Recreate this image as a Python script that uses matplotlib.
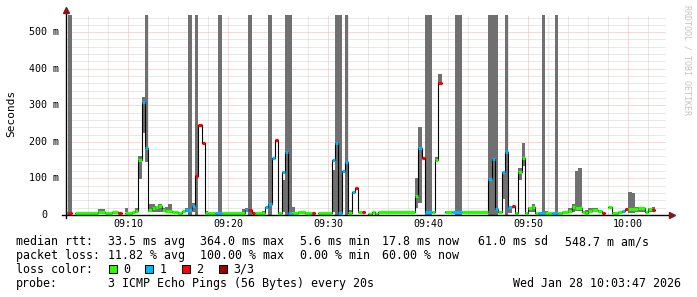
import numpy as np
import pandas as pd
import matplotlib
matplotlib.use("Agg")
import matplotlib.pyplot as plt
import matplotlib.dates as mdates
from matplotlib.ticker import MultipleLocator
from matplotlib.patches import Rectangle
from matplotlib.transforms import blended_transform_factory, offset_copy

DAY = "2026-01-28 "

# median rtt per step (ms), loss count of 3 pings; None = no data
seg_time = ["09:03:40", "09:04:00", "09:04:20", "09:04:40", "09:07:00", "09:07:40", "09:08:20",
            "09:09:00", "09:09:20", "09:09:40", "09:10:20", "09:10:40", "09:11:00", "09:11:20",
            "09:11:40", "09:12:00", "09:12:20", "09:12:40", "09:13:00", "09:13:20", "09:13:40",
            "09:14:20", "09:14:40", "09:15:00", "09:15:20", "09:15:40", "09:16:00", "09:16:20",
            "09:16:40", "09:17:00", "09:17:20", "09:17:40", "09:18:00", "09:18:40", "09:19:20",
            "09:21:40", "09:22:00", "09:22:20", "09:22:40", "09:23:40", "09:24:00", "09:24:20",
            "09:24:40", "09:25:00", "09:25:20", "09:25:40", "09:26:00", "09:26:20", "09:27:00",
            "09:27:40", "09:28:20", "09:28:40", "09:29:00", "09:30:20", "09:30:40", "09:31:00",
            "09:31:20", "09:31:40", "09:32:00", "09:32:20", "09:32:40", "09:33:00", "09:33:20",
            "09:33:40", "09:34:00", "09:34:20", "09:34:40", "09:35:00", "09:38:40", "09:39:00",
            "09:39:20", "09:39:40", "09:40:20", "09:40:40", "09:41:00", "09:41:20", "09:41:40",
            "09:42:20", "09:43:20", "09:46:00", "09:46:20", "09:46:40", "09:47:00", "09:47:20",
            "09:47:40", "09:48:00", "09:48:20", "09:48:40", "09:49:00", "09:49:20", "09:49:40",
            "09:50:00", "09:50:20", "09:50:40", "09:51:00", "09:51:40", "09:52:20", "09:53:00",
            "09:53:20", "09:54:00", "09:54:20", "09:54:40", "09:55:20", "09:55:40", "09:56:00",
            "09:56:20", "09:57:00", "09:57:20", "09:57:40", "09:58:00", "09:58:20", "09:59:00",
            "09:59:20", "09:59:40", "10:00:00", "10:01:00", "10:01:40", "10:02:00", "10:02:20",
            "10:02:40"]
seg_median = [6, 6, None, 5, 8, 6, 8,
              5, None, 5, 7, 10, 150, 308,
              182, 14, 20, 23, 24, 14, 11,
              9, 8, 6, 10, 15, 14, 25,
              107, 245, 198, 6, 5, 6, 5,
              14, 14, 5, 6, 21, 29, 155,
              205, 5, 118, 172, 6, 5, 8,
              5, 5, None, 5, 150, 198, 5,
              120, 146, 6, 62, 75, 7, 7,
              None, 4, 7, 4, 7, 52, 182,
              157, 7, 7, 150, 362, None, 7,
              7, 7, 98, 152, 16, 7, 117,
              171, 23, 25, 5, 118, 155, 5,
              18, 23, 5, 5, 6, 5, 6,
              8, 10, 23, 18, 7, 5, 11,
              15, 11, 5, None, 21, 5, 7,
              10, 16, 17, 19, 8, 16, 14,
              None]
seg_loss = [1, 2, 0, 0, 0, 0, 0,
            2, 0, 0, 0, 0, 0, 1,
            1, 0, 0, 0, 0, 0, 0,
            0, 0, 0, 0, 1, 1, 1,
            2, 2, 2, 0, 0, 1, 0,
            1, 2, 2, 0, 1, 1, 1,
            2, 0, 1, 1, 1, 0, 0,
            0, 2, 0, 0, 1, 1, 1,
            1, 1, 0, 1, 2, 0, 2,
            0, 0, 0, 0, 0, 0, 1,
            2, 1, 0, 0, 2, 0, 0,
            1, 0, 1, 1, 1, 0, 1,
            1, 1, 2, 0, 0, 0, 0,
            0, 0, 0, 1, 0, 1, 0,
            0, 0, 0, 0, 0, 0, 0,
            0, 0, 2, 0, 0, 0, 0,
            1, 2, 0, 0, 0, 0, 2,
            0]

# smoke (spread of the pings) for single 20 s steps
smoke_time = ["09:07:00", "09:07:20", "09:09:40", "09:10:40", "09:11:00", "09:11:20", "09:11:40",
              "09:12:00", "09:12:20", "09:12:40", "09:13:00", "09:13:20", "09:13:40", "09:14:00",
              "09:15:40", "09:16:20", "09:17:40", "09:21:20", "09:21:40", "09:23:20", "09:25:20",
              "09:26:20", "09:30:20", "09:32:00", "09:38:20", "09:38:40", "09:39:00", "09:40:40",
              "09:41:00", "09:41:40", "09:45:20", "09:45:40", "09:47:20", "09:48:00", "09:49:00",
              "09:49:20", "09:50:00", "09:50:20", "09:51:40", "09:54:00", "09:54:20", "09:54:40",
              "09:55:00", "09:55:40", "09:56:00", "09:56:20", "09:56:40", "10:00:00", "10:00:20",
              "10:00:40", "10:01:00", "10:01:20", "10:02:00", "10:02:20"]
smoke_lo = [5, 5, 8, 12, 98, 224, 146,
            8, 8, 8, 8, 8, 8, 8,
            12, 9, 5, 5, 8, 5, 8,
            9, 9, 5, 5, 18, 34, 150,
            355, 5, 5, 5, 44, 5, 96,
            134, 9, 9, 5, 6, 9, 10,
            10, 5, 7, 9, 9, 6, 6,
            9, 9, 9, 9, 8]
smoke_hi = [16, 16, 20, 20, 160, 322, 600,
            30, 30, 24, 30, 20, 22, 30,
            18, 33, 12, 16, 18, 12, 96,
            23, 123, 14, 12, 100, 241, 159,
            387, 10, 12, 12, 115, 23, 128,
            196, 23, 30, 12, 18, 30, 121,
            128, 14, 18, 18, 18, 64, 60,
            22, 22, 22, 20, 22]

# steps where the smoke runs off the top of the graph
tall_start = ["09:04:00", "09:16:00", "09:16:40", "09:19:00", "09:22:00", "09:24:00", "09:25:40",
              "09:30:40", "09:31:40", "09:39:40", "09:42:40", "09:46:00", "09:47:40", "09:51:20",
              "09:52:40"]
tall_end = ["09:04:20", "09:16:20", "09:17:00", "09:19:20", "09:22:20", "09:24:20", "09:26:20",
            "09:31:20", "09:32:00", "09:40:20", "09:43:20", "09:47:00", "09:48:00", "09:51:40",
            "09:53:00"]

loss_colors = ["#26ff00", "#00b8ff", "#ff0000", "#a00000"]
loss_labels = ["0", "1", "2", "3/3"]

stats_rtt = [("median rtt:", 16), ("33.5 ms avg", 107.7), ("364.0 ms max", 200.3),
             ("5.6 ms min", 300.4), ("17.8 ms now", 381.5), ("61.0 ms sd", 478.4),
             ("548.7 m am/s", 565.2)]
stats_loss = [("packet loss:", 16), ("11.82 % avg", 107.7), ("100.00 % max", 200.3),
              ("0.00 % min", 300.4), ("60.00 % now", 381.5)]

W, H = 697, 297
MONO = "DejaVu Sans Mono"
SMOKE = "#707070"


def t2n(lst):
    return mdates.date2num(pd.to_datetime([DAY + s for s in lst]))


fig = plt.figure(figsize=(W / 100, H / 100), dpi=100)
fig.patch.set_facecolor("white")
ax = fig.add_axes([66.1 / W, (H - 215) / H, 600 / W, 200 / H])
ax.set_facecolor("white")

x0 = mdates.date2num(pd.Timestamp(DAY + "09:03:47"))
x1 = mdates.date2num(pd.Timestamp(DAY + "10:03:47"))
ytop = 547
step = 20 / 86400

# grid
ax.xaxis.set_major_locator(mdates.MinuteLocator(byminute=range(0, 60, 10)))
ax.xaxis.set_minor_locator(mdates.MinuteLocator(byminute=range(0, 60, 2)))
ax.xaxis.set_major_formatter(mdates.DateFormatter("%H:%M"))
ax.yaxis.set_major_locator(MultipleLocator(100))
ax.yaxis.set_minor_locator(MultipleLocator(20))
ax.set_axisbelow(True)
ax.grid(which="minor", color="#d2d2d2", linestyle=(0, (1, 1)), linewidth=0.72)
ax.grid(which="major", color="#f4b0b0", linestyle=(0, (1, 1)), linewidth=0.72)

# smoke and lost pings
st = t2n(smoke_time)
ax.bar(st, np.array(smoke_hi) - np.array(smoke_lo), bottom=smoke_lo, width=step,
       align="edge", color=SMOKE, linewidth=0, zorder=2)
ts, te = t2n(tall_start), t2n(tall_end)
ax.bar(ts, ytop + 50, bottom=0, width=te - ts, align="edge", color=SMOKE,
       linewidth=0, zorder=2)

# median line
tt = t2n(seg_time)
med = np.array([np.nan if v is None else v for v in seg_median], dtype=float)
ax.step(tt, med, where="post", color="black", linewidth=0.8, zorder=3)
for i in range(len(tt) - 1):
    if not np.isnan(med[i]):
        ax.hlines(med[i], tt[i], tt[i + 1], colors=loss_colors[seg_loss[i]],
                  linewidth=2.3, capstyle="butt", zorder=4)

ax.set_xlim(x0, x1)
ax.set_ylim(0, ytop)
for s in ax.spines.values():
    s.set_visible(False)

ax.tick_params(which="both", length=0)
ax.tick_params(axis="x", pad=3, labelsize=7.2)
for lab in ax.get_xticklabels():
    lab.set_fontfamily(MONO)
ax.set_yticklabels([])

# y labels, rrdtool style
btr = blended_transform_factory(ax.transAxes, ax.transData)
for v in range(0, 501, 100):
    txt = "0" if v == 0 else f"{v} m"
    dx = -19 if v == 0 else -7
    ax.text(0, v, txt, transform=offset_copy(btr, fig=fig, x=dx, y=0, units="dots"),
            ha="right", va="center", fontsize=7.2, family=MONO)

# axes with arrows
ax.plot([-0.007, 1.006], [0, 0], transform=ax.transAxes, color="black",
        linewidth=1, clip_on=False, zorder=5)
ax.plot([0, 0], [-0.015, 1.02], transform=ax.transAxes, color="black",
        linewidth=1, clip_on=False, zorder=5)
ax.plot([1.009], [0], marker=">", markersize=4.5, color="#801818",
        transform=ax.transAxes, clip_on=False, zorder=6)
ax.plot([0], [1.025], marker="^", markersize=4.5, color="#801818",
        transform=ax.transAxes, clip_on=False, zorder=6)

fig.text(11 / W, 1 - 113 / H, "Seconds", rotation=90, ha="center", va="center",
         fontsize=8, family=MONO)
fig.text(687.5 / W, 1 - 60 / H, "RRDTOOL / TOBI OETIKER", rotation=270,
         ha="center", va="center", fontsize=6, family=MONO, color="#c4c4c4")

FS = 8.4
for txt, x in stats_rtt:
    fig.text(x / W, 1 - 241.7 / H, txt, ha="left", va="center", fontsize=FS, family=MONO)
for txt, x in stats_loss:
    fig.text(x / W, 1 - 255.5 / H, txt, ha="left", va="center", fontsize=FS, family=MONO)

fig.text(16 / W, 1 - 269.3 / H, "loss color:", ha="left", va="center", fontsize=FS, family=MONO)
for i, (c, lab) in enumerate(zip(loss_colors, loss_labels)):
    bx = 108.5 + i * 36.8
    fig.add_artist(Rectangle((bx / W, 1 - 273.3 / H), 8 / W, 8 / H, transform=fig.transFigure,
                             facecolor=c, edgecolor="black", linewidth=0.75))
    fig.text((bx + 14.5) / W, 1 - 269.3 / H, lab, ha="left", va="center", fontsize=FS, family=MONO)

fig.text(16 / W, 1 - 283.3 / H, "probe:", ha="left", va="center", fontsize=FS, family=MONO)
fig.text(107.7 / W, 1 - 283.3 / H, "3 ICMP Echo Pings (56 Bytes) every 20s",
         ha="left", va="center", fontsize=FS, family=MONO)
fig.text(681 / W, 1 - 283.3 / H, "Wed Jan 28 10:03:47 2026",
         ha="right", va="center", fontsize=FS, family=MONO)

fig.savefig("out.png", dpi=100, facecolor="white")
